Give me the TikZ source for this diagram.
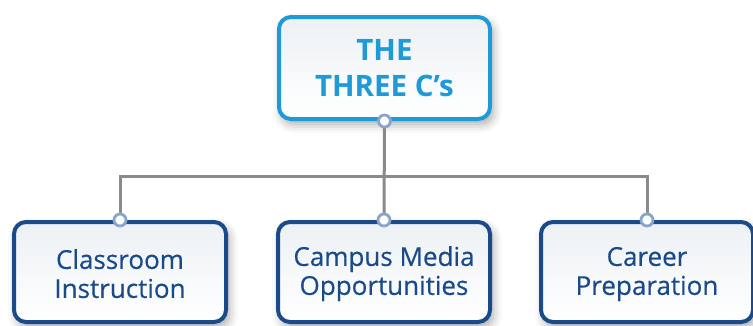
\documentclass[tikz,border=0pt]{standalone}
\usepackage{fontspec}
\setmainfont{Open Sans}
\usetikzlibrary{shadows.blur}
\definecolor{topblue}{HTML}{1E9BD7}
\definecolor{darkblue}{HTML}{1A4A8A}
\definecolor{linegray}{HTML}{8A8A8A}
\definecolor{ringblue}{HTML}{8AA5CB}
\definecolor{boxtop}{HTML}{EDF1F4}
\tikzset{
  x=1pt,y=1pt,
  card/.style={rectangle, rounded corners=12pt, line width=4pt,
    top color=boxtop, bottom color=white, align=center,
    blur shadow={shadow xshift=3pt, shadow yshift=-5pt, shadow blur radius=9pt, shadow opacity=35},
    inner sep=0pt},
  topcard/.style={card, draw=topblue, text=topblue, minimum width=211pt, minimum height=102pt,
    font=\fontsize{29.5}{36}\selectfont\bfseries},
  subcard/.style={card, draw=darkblue, text=darkblue, minimum width=212pt, minimum height=100pt,
    font=\fontsize{26}{29}\selectfont\addfontfeature{FakeBold=0.4}},
  link/.style={draw=linegray, line width=3pt},
  joint/.style={circle, fill=white, draw=ringblue, line width=2.8pt, minimum size=12pt, inner sep=0pt},
}
\begin{document}
\begin{tikzpicture}
\useasboundingbox (0,0) rectangle (753,325);
\node[topcard] (top) at (384.5,257) {THE\\THREE C’s};
\node[subcard] (left) at (120,53) {\rule{0pt}{0pt}\\[-6pt]Classroom\\Instruction};
\node[subcard] (mid) at (384,53) {\rule{0pt}{0pt}\\[-6pt]Campus Media\\Opportunities};
\node[subcard] (right) at (647,53) {\rule{0pt}{0pt}\\[-6pt]Career\\Preparation};
\coordinate (bar) at (384,149);
\draw[link] (top.south) -- (mid.north);
\draw[link] (left.north) -- (left.north |- bar) -- (right.north |- bar) -- (right.north);
\node[joint] (jt) at (top.south) {};
\node[joint] (jl) at (left.north) {};
\node[joint] (jm) at (mid.north) {};
\node[joint] (jr) at (right.north) {};
\end{tikzpicture}
\end{document}
